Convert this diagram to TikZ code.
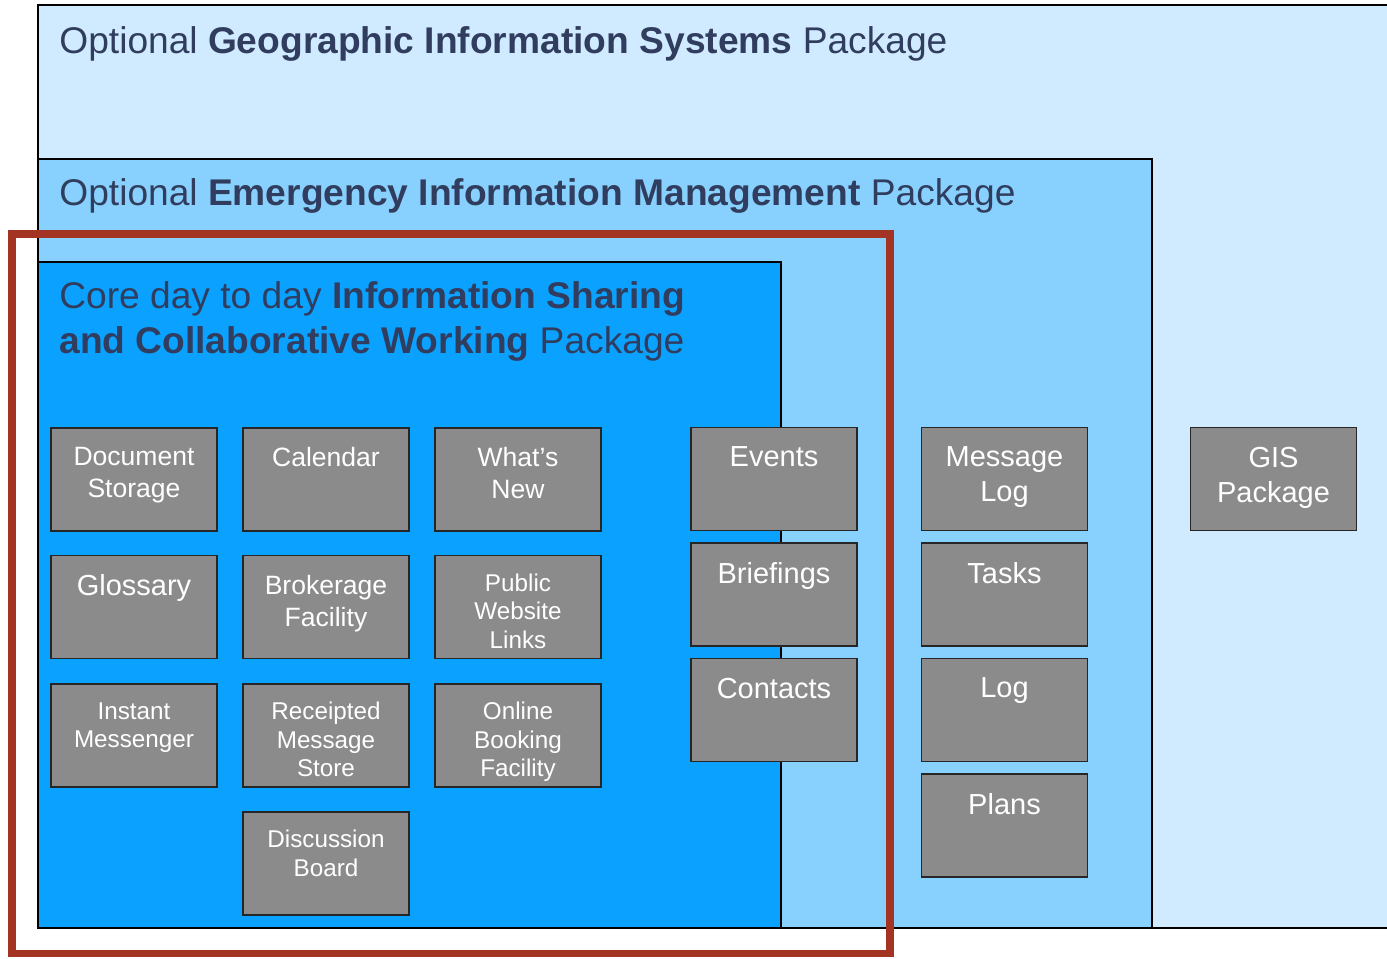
\documentclass[tikz,border=0pt]{standalone}
\usepackage{fontspec}
\setmainfont{Liberation Sans}
\definecolor{panelgis}{HTML}{D0EBFF}
\definecolor{paneleim}{HTML}{88D1FE}
\definecolor{panelcore}{HTML}{0BA2FF}
\definecolor{modgray}{HTML}{8A8B8A}
\definecolor{titleblue}{HTML}{313D5E}
\definecolor{redframe}{HTML}{A33322}
\newcommand\modbig{\fontsize{16.5}{19.9}\selectfont}
\newcommand\modmid{\fontsize{15.1}{18.2}\selectfont}
\newcommand\modsmall{\fontsize{13.8}{16.2}\selectfont}
\begin{document}
\begin{tikzpicture}[x=0.02cm,y=-0.02cm,
	panel/.style={draw=black,line width=0.9pt},
	modbox/.style={draw=black!85,fill=modgray,line width=1.1pt,minimum width=3.32cm,minimum height=2.06cm,inner sep=0pt},
	modtext/.style={anchor=north,yshift=-11.4pt,inner sep=0pt,text=white,align=center},
	pkgtitle/.style={text=titleblue,inner sep=0pt,align=left,font=\fontsize{21.15}{25.6}\selectfont}]
		\useasboundingbox (0,0) rectangle (1387,958);
		% packages
		\fill[panelgis] (38,5) rectangle (1400,928);
		\draw[panel] (1400,5) -- (38,5) -- (38,928) -- (1400,928);
		\draw[panel,fill=paneleim] (38,159) rectangle (1152,928);
		\draw[panel,fill=panelcore] (38,262) rectangle (781,928);
		\node[pkgtitle,anchor=base west] (p1) at (59,53) {Optional \textbf{Geographic Information Systems} Package};
		\node[pkgtitle,anchor=base west] (p2) at (59,205) {Optional \textbf{Emergency Information Management} Package};
		\node[pkgtitle,anchor=north west] (p3) at (59,281) {Core day to day \textbf{Information Sharing}\\\textbf{and Collaborative Working} Package};
		\draw[redframe,line width=4pt] (12,234) rectangle (890,953);
		% core modules
		\node[modbox,label={[modtext,font=\modmid]north:Document\\Storage}] (m1) at (134,479.5) {};
		\node[modbox,label={[modtext,font=\modmid]north:Calendar}] (m2) at (326,479.5) {};
		\node[modbox,label={[modtext,font=\modmid]north:What’s\\New}] (m3) at (518,479.5) {};
		\node[modbox,label={[modtext,font=\modbig]north:Glossary}] (m4) at (134,607) {};
		\node[modbox,label={[modtext,font=\modmid]north:Brokerage\\Facility}] (m5) at (326,607) {};
		\node[modbox,label={[modtext,font=\modsmall,yshift=0.6pt]north:Public\\Website\\Links}] (m6) at (518,607) {};
		\node[modbox,label={[modtext,font=\modsmall,yshift=0.6pt]north:Instant\\Messenger}] (m7) at (134,735.5) {};
		\node[modbox,label={[modtext,font=\modsmall,yshift=0.6pt]north:Receipted\\Message\\Store}] (m8) at (326,735.5) {};
		\node[modbox,label={[modtext,font=\modsmall,yshift=0.6pt]north:Online\\Booking\\Facility}] (m9) at (518,735.5) {};
		\node[modbox,label={[modtext,font=\modsmall,yshift=0.6pt]north:Discussion\\Board}] (m10) at (326,863.5) {};
		\node[modbox,label={[modtext,font=\modbig]north:Events}] (m11) at (774,479) {};
		\node[modbox,label={[modtext,font=\modbig]north:Briefings}] (m12) at (774,594.5) {};
		\node[modbox,label={[modtext,font=\modbig]north:Contacts}] (m13) at (774,710) {};
		% emergency modules
		\node[modbox,label={[modtext,font=\modbig]north:Message\\Log}] (m14) at (1004.5,479) {};
		\node[modbox,label={[modtext,font=\modbig]north:Tasks}] (m15) at (1004.5,594.5) {};
		\node[modbox,label={[modtext,font=\modbig]north:Log}] (m16) at (1004.5,710) {};
		\node[modbox,label={[modtext,font=\modbig]north:Plans}] (m17) at (1004.5,825.5) {};
		% gis
		\node[modbox,label={[modtext,font=\modbig]north:GIS\\Package}] (m18) at (1273.5,479) {};
\end{tikzpicture}
\end{document}
